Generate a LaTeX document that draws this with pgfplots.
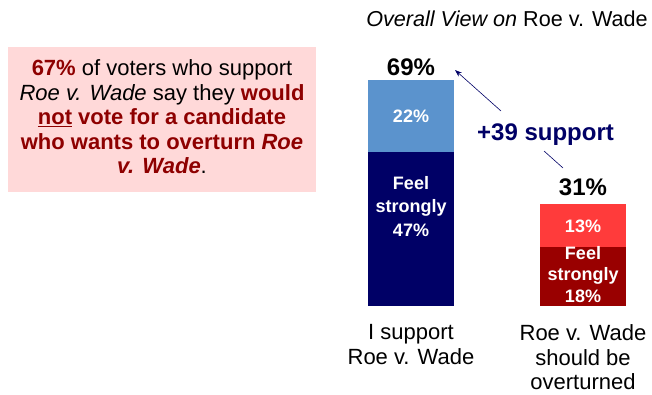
\documentclass[border=0pt]{standalone}
\usepackage{pgfplots}
\pgfplotsset{compat=1.18}
\usepackage{fontspec}
\setmainfont{Liberation Sans}
\usetikzlibrary{arrows.meta}
\definecolor{navybar}{HTML}{000066}
\definecolor{lightblue}{HTML}{5B93CD}
\definecolor{darkred}{HTML}{990000}
\definecolor{lightred}{HTML}{FF3B3B}
\definecolor{pinkbox}{HTML}{FFD9D9}
\definecolor{navytext}{HTML}{000066}
\definecolor{redtext}{HTML}{8E0000}
\begin{document}
\begin{tikzpicture}[x=1pt,y=1pt]
\path[use as bounding box] (0,0) rectangle (652,394);
% text box
\fill[pinkbox] (8,202) rectangle (316,347);
\node[anchor=north, inner sep=0pt, align=center, font=\fontsize{22}{24.5}\selectfont] at (162,334.5)
{\textcolor{redtext}{\textbf{67\%}} of voters who support\\
\textit{Roe v. Wade} say they \textcolor{redtext}{\textbf{would}}\\
\textcolor{redtext}{\textbf{\underline{not} vote for a candidate}}\\
\textcolor{redtext}{\textbf{who wants to overturn \textit{Roe}}}\\
\textcolor{redtext}{\textbf{\textit{v. Wade}}}.};
% title
\node[anchor=base, inner sep=0pt, font=\fontsize{21.6}{24}\selectfont] at (507,367) {\textit{Overall View on} Roe v. Wade};
\begin{axis}[
  at={(368pt,88pt)}, anchor=south west,
  scale only axis, width=258pt, height=226pt,
  xmin=-0.25, xmax=1.25, ymin=0, ymax=69,
  hide axis, clip=false,
  ybar stacked, bar width=86pt,
]
\addplot[fill=navybar, draw=none] coordinates {(0,47) (1,0)};
\addplot[fill=darkred, draw=none] coordinates {(0,0) (1,18)};
\addplot[fill=lightblue, draw=none] coordinates {(0,22) (1,0)};
\addplot[fill=lightred, draw=none] coordinates {(0,0) (1,13)};
\coordinate (l22) at (axis cs:0,58);
\coordinate (l47) at (axis cs:0,30.4);
\coordinate (l13) at (axis cs:1,24.3);
\coordinate (l18) at (axis cs:1,9.6);
\coordinate (t69) at (axis cs:0,72.8);
\coordinate (t31) at (axis cs:1,36.2);
\end{axis}
% segment labels
\node[text=white, font=\fontsize{18}{23.5}\selectfont\bfseries] at (l22) {22\%};
\node[text=white, align=center, font=\fontsize{18}{23.5}\selectfont\bfseries] at (l47) {Feel\\strongly\\47\%};
\node[text=white, font=\fontsize{18}{21.5}\selectfont\bfseries] at (l13) {13\%};
\node[text=white, align=center, font=\fontsize{18}{21.5}\selectfont\bfseries] at (l18) {Feel\\strongly\\18\%};
% totals
\node[font=\fontsize{24}{28}\selectfont\bfseries] at (t69) {69\%};
\node[font=\fontsize{24}{28}\selectfont\bfseries] at (t31) {31\%};
% category labels
\node[anchor=north, inner sep=0pt, align=center, font=\fontsize{22}{24.5}\selectfont] at (411,69.5) {I support\\Roe v. Wade};
\node[anchor=north, inner sep=0pt, align=center, font=\fontsize{22}{24.5}\selectfont] at (583,69.5) {Roe v. Wade\\should be\\overturned};
% annotation
\node[anchor=base, inner sep=0pt, text=navytext, font=\fontsize{24}{28}\selectfont\bfseries] at (545.5,253) {+39 support};
\draw[navytext, line width=0.6pt, -{Stealth[length=7pt,width=5pt]}] (501,283) -- (455,324);
\draw[navytext, line width=0.6pt] (544,243) -- (563,226);
\end{tikzpicture}
\end{document}
